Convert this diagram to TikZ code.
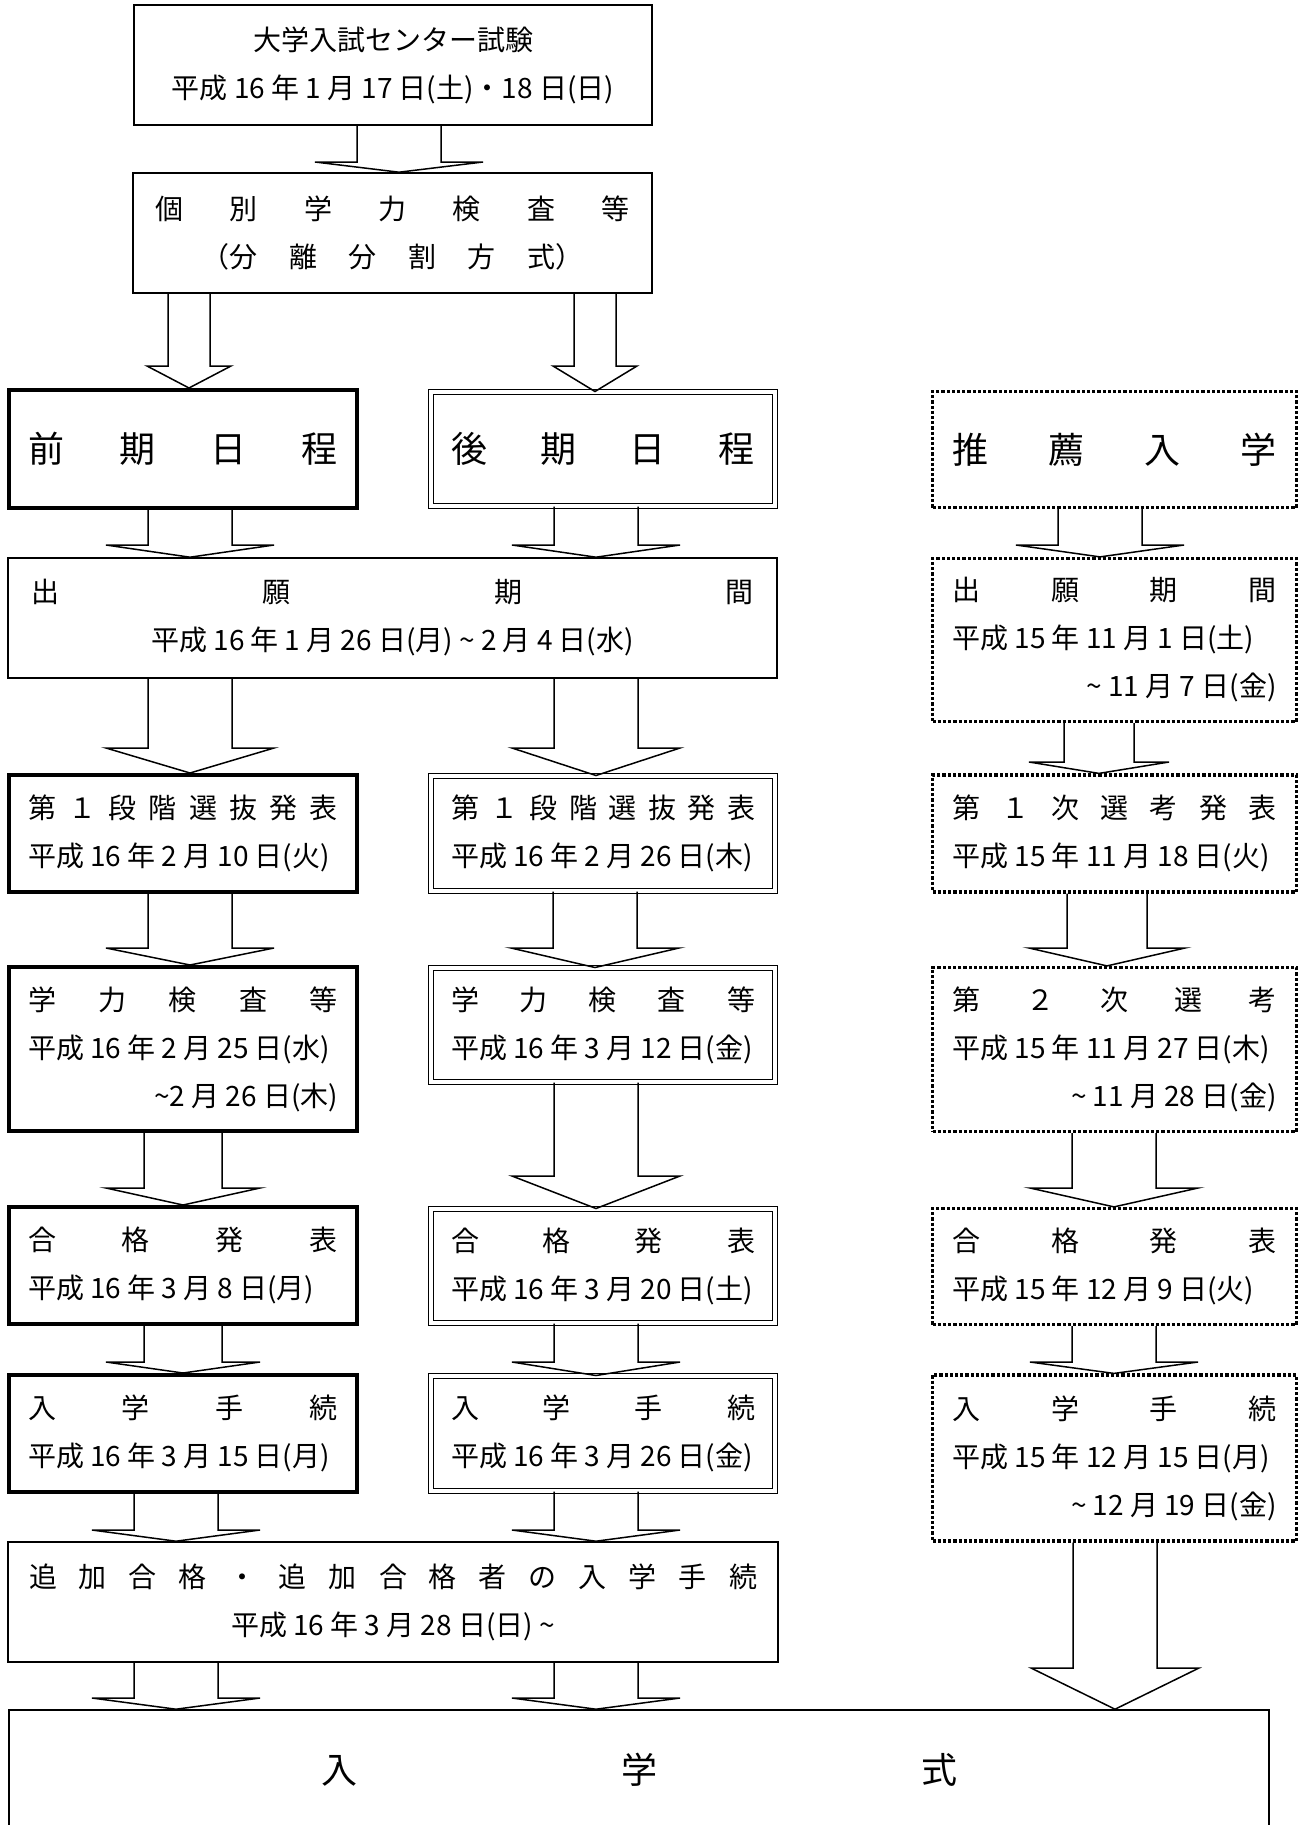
\documentclass[tikz,border=0pt]{standalone}
\usepackage{fontspec}
\setmainfont{Noto Sans CJK JP}
\usepackage{tikz}

% spread the characters of a line over the whole width
\def\spreadchars#1{\ifx\relax#1\else #1\hfill\expandafter\spreadchars\fi}
\newcommand{\spread}[1]{\makebox[\linewidth][s]{\spreadchars#1\relax\unskip}}
\newcommand{\tight}{\spaceskip=3.1pt\relax}
\newcommand{\lline}[1]{\makebox[\linewidth][l]{\tight#1}}
\newcommand{\rline}[1]{\makebox[\linewidth][r]{\tight#1}}
\newcommand{\mline}[1]{\makebox[\linewidth][c]{\tight#1}}
\newcommand{\boxfont}{\fontsize{14pt}{24pt}\selectfont\tight}
\newcommand{\bigfont}{\fontsize{18pt}{24pt}\selectfont}
% hollow block arrow: source, target, x, y of head base, half shaft, half head
\newcommand{\fatarrow}[6]{%
\draw[fat](#3-#5,0 |- #1.south) -- (#3-#5,#4) -- (#3-#6,#4) -- (#3,0 |- #2.north)
  -- (#3+#6,#4) -- (#3+#5,#4) -- (#3+#5,0 |- #1.south);}

\tikzset{
  box/.style={draw, rectangle, line width=0.8pt, inner sep=0pt, align=center, font=\boxfont},
  zenki/.style={box, line width=2pt, text width=155pt, minimum width=174pt},
  kouki/.style={box, line width=0.5pt, double, double distance=1.85pt,
    text width=152pt, minimum width=172pt},
  suisen/.style={box, line width=1.6pt, dash pattern=on 1.6pt off 1.0pt,
    text width=162pt, minimum width=182pt},
  big/.style={font=\bigfont},
  fat/.style={line width=0.75pt, line join=miter},
}

\begin{document}
\begin{tikzpicture}[x=0.5pt, y=-0.5pt]
\useasboundingbox (0,0) rectangle (1300,1825);
\node[box, minimum width=259pt, minimum height=60pt](shiken) at (393,65)
  {大学入試センター試験\\平成 16 年 1 月 17 日(土)・18 日(日)};
\node[box, text width=237pt, minimum width=259.5pt, minimum height=60pt](kobetsu) at (392.5,233)
  {\spread{個別学力検査等}\\\makebox[191pt][s]{（分\hfill 離\hfill 分\hfill 割\hfill 方\hfill 式）}};
%
\node[zenki, big, minimum height=59pt](zenki) at (183,449) {\spread{前期日程}};
\node[kouki, big, minimum height=57pt](kouki) at (603,449) {\spread{後期日程}};
\node[suisen, big, minimum height=58pt](suisen) at (1114.5,449.5) {\spread{推薦入学}};
%
\node[box, text width=361pt, minimum width=384.5pt, minimum height=60pt](shutsugan) at (392.5,618)
  {\spread{出願期間}\\\mline{平成 16 年 1 月 26 日(月) \textasciitilde\ 2 月 4 日(水)}};
\node[suisen, minimum height=81.5pt](rshutsugan) at (1114.5,640)
  {\spread{出願期間}\\\lline{平成 15 年 11 月 1 日(土)}\\\rline{\textasciitilde\ 11 月 7 日(金)}};
%
\node[zenki, minimum height=58.5pt](zdan) at (183,833.5)
  {\spread{第１段階選抜発表}\\\lline{平成 16 年 2 月 10 日(火)}};
\node[kouki, minimum height=57.5pt](kdan) at (603,833.5)
  {\spread{第１段階選抜発表}\\\lline{平成 16 年 2 月 26 日(木)}};
\node[suisen, minimum height=58.5pt](rsenkou) at (1114.5,833.5)
  {\spread{第１次選考発表}\\\lline{平成 15 年 11 月 18 日(火)}};
%
\node[zenki, minimum height=82pt](zkensa) at (183,1049)
  {\spread{学力検査等}\\\lline{平成 16 年 2 月 25 日(水)}\\\rline{\textasciitilde 2 月 26 日(木)}};
\node[kouki, minimum height=57pt](kkensa) at (603,1025)
  {\spread{学力検査等}\\\lline{平成 16 年 3 月 12 日(金)}};
\node[suisen, minimum height=82pt](rsenkou2) at (1114.5,1049.5)
  {\spread{第２次選考}\\\lline{平成 15 年 11 月 27 日(木)}\\\rline{\textasciitilde\ 11 月 28 日(金)}};
%
\node[zenki, minimum height=58.5pt](zgoukaku) at (183,1265.5)
  {\spread{合格発表}\\\lline{平成 16 年 3 月 8 日(月)}};
\node[kouki, minimum height=57pt](kgoukaku) at (603,1266)
  {\spread{合格発表}\\\lline{平成 16 年 3 月 20 日(土)}};
\node[suisen, minimum height=58pt](rgoukaku) at (1114.5,1266.5)
  {\spread{合格発表}\\\lline{平成 15 年 12 月 9 日(火)}};
%
\node[zenki, minimum height=58.5pt](ztetsu) at (183,1433.5)
  {\spread{入学手続}\\\lline{平成 16 年 3 月 15 日(月)}};
\node[kouki, minimum height=57.5pt](ktetsu) at (603,1433.5)
  {\spread{入学手続}\\\lline{平成 16 年 3 月 26 日(金)}};
\node[suisen, minimum height=83pt](rtetsu) at (1114.5,1458)
  {\spread{入学手続}\\\lline{平成 15 年 12 月 15 日(月)}\\\rline{\textasciitilde\ 12 月 19 日(金)}};
%
\node[box, text width=364pt, minimum width=385pt, minimum height=60pt](tsuika) at (393,1602)
  {\spread{追加合格・追加合格者の入学手続}\\\mline{平成 16 年 3 月 28 日(日) \textasciitilde}};
\node[box, big, text width=318pt, minimum width=630pt, minimum height=60pt](shiki) at (639,1770)
  {\spread{入学式}};
%
\fatarrow{shiken}{kobetsu}{399}{162}{42}{84}
\fatarrow{kobetsu}{zenki}{189}{366}{21}{42}
\fatarrow{kobetsu}{kouki}{595}{366}{21}{42}
\fatarrow{zenki}{shutsugan}{190}{545}{42}{84}
\fatarrow{kouki}{shutsugan}{596}{545}{42}{84}
\fatarrow{suisen}{rshutsugan}{1100}{545}{42}{84}
\fatarrow{shutsugan}{zdan}{190}{748}{42}{84}
\fatarrow{shutsugan}{kdan}{596}{748}{42}{84}
\fatarrow{rshutsugan}{rsenkou}{1099}{762}{35}{70}
\fatarrow{zdan}{zkensa}{190}{948}{42}{84}
\fatarrow{kdan}{kkensa}{595}{948}{42}{84}
\fatarrow{rsenkou}{rsenkou2}{1107}{948}{40}{78}
\fatarrow{zkensa}{zgoukaku}{183}{1188}{39}{77}
\fatarrow{kkensa}{kgoukaku}{596}{1176}{42}{84}
\fatarrow{rsenkou2}{rgoukaku}{1114}{1188}{42}{84}
\fatarrow{zgoukaku}{ztetsu}{183}{1362}{39}{77}
\fatarrow{kgoukaku}{ktetsu}{596}{1362}{42}{84}
\fatarrow{rgoukaku}{rtetsu}{1114}{1362}{42}{84}
\fatarrow{ztetsu}{tsuika}{176}{1530}{42}{84}
\fatarrow{ktetsu}{tsuika}{596}{1530}{42}{84}
\fatarrow{tsuika}{shiki}{176}{1698}{42}{84}
\fatarrow{tsuika}{shiki}{596}{1698}{42}{84}
\fatarrow{rtetsu}{shiki}{1115}{1668}{42}{84}
\end{tikzpicture}
\end{document}
